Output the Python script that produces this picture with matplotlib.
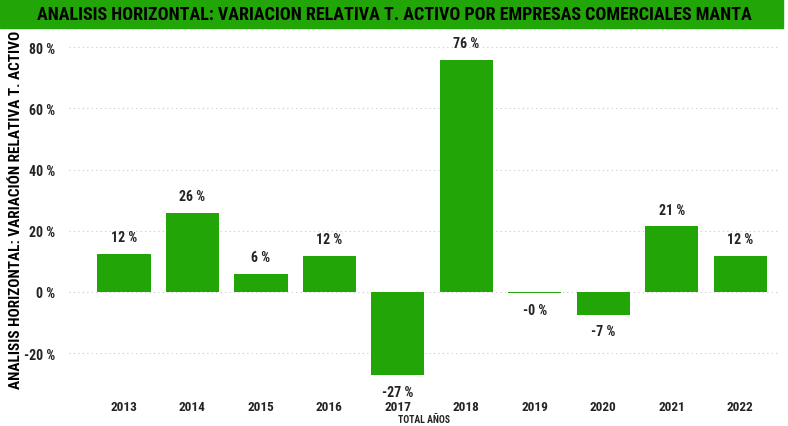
import matplotlib
matplotlib.use("Agg")
import matplotlib.pyplot as plt
from matplotlib import font_manager
from matplotlib.patches import Rectangle

# Datos
anios = ["2013", "2014", "2015", "2016", "2017", "2018", "2019", "2020", "2021", "2022"]
variacion = [12.4, 25.8, 5.9, 11.8, -27.1, 75.8, -0.3, -7.4, 21.4, 11.8]
etiquetas_y = [-20, 0, 20, 40, 60, 80]

VERDE = "#22a507"
TEXTO = "#252423"

# buscar una fuente condensada instalada
instaladas = sorted({f.name for f in font_manager.fontManager.ttflist})
candidatas = ["Roboto Condensed", "Liberation Sans Narrow", "DejaVu Sans Condensed",
              "Open Sans Condensed", "Noto Sans Condensed", "Arial Narrow"]
fuente = next((c for c in candidatas if c in instaladas), None)
condensada = fuente is not None
if fuente is None:
    fuente = "Roboto" if "Roboto" in instaladas else "DejaVu Sans"
plt.rcParams["font.family"] = [fuente, "DejaVu Sans"]
esc = 1.0 if condensada else 0.82

fig = plt.figure(figsize=(7.88, 4.27), dpi=100)

# Barra de titulo
fig.patches.append(Rectangle((0, 1 - 29 / 427), 783 / 788, 29 / 427,
                             transform=fig.transFigure, color=VERDE, zorder=0))
fig.text(0.5, 1 - 15 / 427, "ANALISIS HORIZONTAL: VARIACION RELATIVA T. ACTIVO POR EMPRESAS COMERCIALES MANTA",
         ha="center", va="center", fontsize=13 * esc, fontweight="bold", color="black")

ax = fig.add_axes([69 / 788, 33 / 427, 711 / 788, 352 / 427])
x = list(range(len(anios)))
ax.bar(x, variacion, width=0.78, color=VERDE, zorder=2)

for xi, v in zip(x, variacion):
    txt = f"{round(v):.0f} %" if round(v) != 0 or v >= 0 else "-0 %"
    if v >= 0:
        ax.annotate(txt, (xi, v), xytext=(0, 7), textcoords="offset points",
                    ha="center", va="bottom", fontsize=10 * esc, fontweight="bold", color=TEXTO)
    else:
        ax.annotate(txt, (xi, v), xytext=(0, -7), textcoords="offset points",
                    ha="center", va="top", fontsize=10 * esc, fontweight="bold", color=TEXTO)

ax.set_xlim(-0.8, 9.58)
ax.set_ylim(-33, 82)
ax.set_yticks(etiquetas_y)
ax.set_yticklabels([f"{t} %" for t in etiquetas_y])
ax.set_xticks(x)
ax.set_xticklabels(anios)
ax.tick_params(axis="both", length=0, labelcolor=TEXTO)
ax.tick_params(axis="y", pad=10, labelsize=10 * esc)
ax.tick_params(axis="x", pad=5, labelsize=9.5 * esc)
for lbl in ax.get_xticklabels() + ax.get_yticklabels():
    lbl.set_fontweight("bold")
ax.yaxis.grid(True, linestyle=(0, (1, 3)), color="#c8c8c8", linewidth=0.8, zorder=0)
for s in ax.spines.values():
    s.set_visible(False)

ax.set_xlabel("TOTAL AÑOS", fontsize=7 * esc, fontweight="bold", color=TEXTO, labelpad=1)
fig.text(16 / 788, 1 - 210 / 427, "ANALISIS HORIZONTAL: VARIACIÓN RELATIVA T. ACTIVO",
         rotation=90, ha="center", va="center", fontsize=11 * esc, fontweight="bold", color="black")

fig.savefig("out.png", dpi=100)
